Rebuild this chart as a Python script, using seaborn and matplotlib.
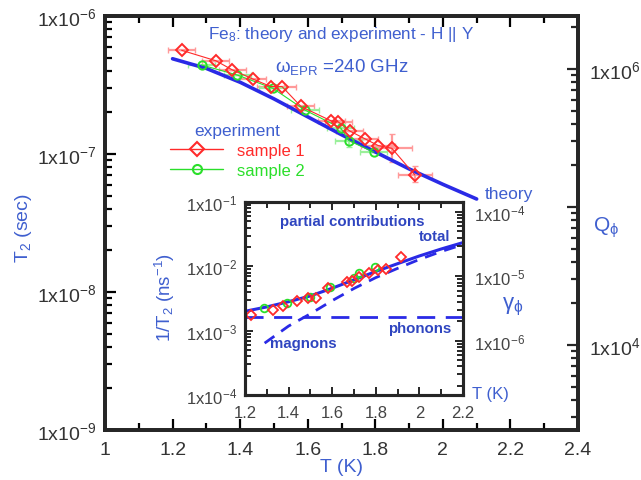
import numpy as np
import pandas as pd
import matplotlib
matplotlib.use("Agg")
import matplotlib.pyplot as plt
import seaborn as sns
from matplotlib.ticker import MultipleLocator, FixedLocator, FixedFormatter, NullFormatter, LogLocator, FuncFormatter
from matplotlib.lines import Line2D

# ---------------- data ----------------
theory_T = [1.20, 1.30, 1.40, 1.50, 1.60, 1.70, 1.80, 1.90, 2.00, 2.10]
theory_T2 = [4.90e-7, 4.17e-7, 3.31e-7, 2.51e-7, 1.86e-7, 1.38e-7, 1.035e-7, 7.80e-8, 6.03e-8, 4.72e-8]

s1_T = [1.227, 1.328, 1.376, 1.438, 1.491, 1.524, 1.580, 1.669, 1.690, 1.724, 1.769, 1.809, 1.849, 1.917]
s1_T2 = [5.64e-7, 4.74e-7, 4.08e-7, 3.49e-7, 3.08e-7, 3.08e-7, 2.21e-7, 1.74e-7, 1.71e-7, 1.47e-7, 1.29e-7, 1.15e-7, 1.10e-7, 7.05e-8]
s1_xerr = [0.04, 0.04, 0.04, 0.04, 0.04, 0.04, 0.04, 0.04, 0.04, 0.04, 0.04, 0.05, 0.06, 0.05]
s1_yerr_lo = [0, 0, 0, 0, 0, 0, 0, 0, 0, 0, 0, 0, 2.25e-8, 0.78e-8]
s1_yerr_hi = [0, 0, 0, 0, 0, 0, 0, 0, 0, 0, 0, 0, 3.0e-8, 1.13e-8]

s2_T = [1.286, 1.392, 1.497, 1.592, 1.698, 1.722, 1.796]
s2_T2 = [4.42e-7, 3.73e-7, 2.99e-7, 2.08e-7, 1.54e-7, 1.25e-7, 1.03e-7]
s2_xerr = [0.04, 0.04, 0.04, 0.04, 0.04, 0.04, 0.04]
s2_yerr = [0, 0, 0, 0, 1.5e-8, 1.2e-8, 0]

total_T = [1.20, 1.30, 1.40, 1.50, 1.60, 1.70, 1.80, 1.90, 2.00, 2.10, 2.20]
total_rate = [2.00e-3, 2.34e-3, 2.82e-3, 3.47e-3, 4.57e-3, 6.17e-3, 8.32e-3, 1.10e-2, 1.45e-2, 1.86e-2, 2.34e-2]
phonon_T = [1.20, 2.20]
phonon_rate = [1.64e-3, 1.64e-3]
magnon_T = [1.29, 1.40, 1.50, 1.60, 1.70, 1.80, 1.90, 2.00, 2.10, 2.20]
magnon_rate = [6.4e-4, 1.18e-3, 1.83e-3, 2.93e-3, 4.53e-3, 6.68e-3, 9.3e-3, 1.28e-2, 1.70e-2, 2.18e-2]

main_yticks = [1e-9, 1e-8, 1e-7, 1e-6]
main_ylabels = [r"1x10$^{-9}$", r"1x10$^{-8}$", r"1x10$^{-7}$", r"1x10$^{-6}$"]
q_ticks = [1e4, 1e5, 1e6]
q_labels = [r"1x10$^{4}$", "", r"1x10$^{6}$"]
in_yticks = [1e-4, 1e-3, 1e-2, 1e-1]
in_ylabels = [r"1x10$^{-4}$", r"1x10$^{-3}$", r"1x10$^{-2}$", r"1x10$^{-1}$"]
g_ticks = [1e-6, 1e-5, 1e-4]
g_labels = [r"1x10$^{-6}$", r"1x10$^{-5}$", r"1x10$^{-4}$"]

# ---------------- style ----------------
sns.set_theme(style="ticks")
plt.rcParams["font.family"] = ["Liberation Sans", "DejaVu Sans"]
plt.rcParams["mathtext.default"] = "regular"

RED = "#ff2a2a"
RED_L = "#ff9a9a"
GREEN = "#2adf2a"
GREEN_L = "#9af09a"
BLUE = "#2a2ae6"
TXT = "#3f5fcf"
TXT_D = "#2f45c0"
TICK = "#333333"

W, H = 641, 481
fig = plt.figure(figsize=(W / 100, H / 100), dpi=100)
fig.patch.set_facecolor("white")

def P(x, y):
    return x / W, 1 - y / H

# ---------------- main axes ----------------
ax = fig.add_axes([105 / W, 1 - 431 / H, (578 - 105) / W, (431 - 17) / H])
ax.set_yscale("log")

sns.lineplot(x=theory_T, y=theory_T2, ax=ax, color=BLUE, lw=2.6, estimator=None, sort=False, zorder=3)

ax.errorbar(s1_T, s1_T2, xerr=s1_xerr, yerr=[s1_yerr_lo, s1_yerr_hi], fmt="none",
            ecolor=RED_L, elinewidth=1.6, capsize=2.5, capthick=1.0, zorder=2)
ax.errorbar(s2_T, s2_T2, xerr=s2_xerr, yerr=s2_yerr, fmt="none",
            ecolor=GREEN_L, elinewidth=1.6, capsize=2.5, capthick=1.0, zorder=2)
sns.lineplot(x=s2_T, y=s2_T2, ax=ax, color=GREEN, lw=0.8, marker="o", markersize=6,
             markerfacecolor="none", markeredgecolor=GREEN, markeredgewidth=1.4,
             estimator=None, sort=False, zorder=4)
sns.lineplot(x=s1_T, y=s1_T2, ax=ax, color=RED, lw=0.8, marker="D", markersize=6,
             markerfacecolor="none", markeredgecolor=RED, markeredgewidth=1.4,
             estimator=None, sort=False, zorder=5)

ax.set_xlim(1, 2.4)
ax.set_ylim(1e-9, 1e-6)
ax.xaxis.set_major_locator(MultipleLocator(0.2))
ax.xaxis.set_minor_locator(MultipleLocator(0.1))
ax.xaxis.set_major_formatter(FuncFormatter(lambda v, p: f"{v:g}"))
ax.yaxis.set_major_locator(FixedLocator(main_yticks))
ax.yaxis.set_major_formatter(FixedFormatter(main_ylabels))
ax.yaxis.set_minor_locator(LogLocator(base=10, subs=np.arange(2, 10)))
ax.yaxis.set_minor_formatter(NullFormatter())
ax.tick_params(which="both", direction="in", top=True, right=False, colors="black",
               labelcolor=TICK, labelsize=14, width=1.6)
ax.tick_params(which="major", length=8)
ax.tick_params(which="minor", length=5)
ax.tick_params(axis="x", pad=8)
ax.tick_params(axis="y", pad=6)
for s in ax.spines.values():
    s.set_linewidth(2.6)
    s.set_color("black")
ax.set_xlabel("")
ax.set_ylabel("")

ax2 = ax.twinx()
ax2.set_yscale("log")
k = 10 ** 12.384
ax2.set_ylim(1e-9 * k, 1e-6 * k)
ax2.yaxis.set_major_locator(FixedLocator(q_ticks))
ax2.yaxis.set_major_formatter(FixedFormatter(q_labels))
ax2.yaxis.set_minor_locator(LogLocator(base=10, subs=np.arange(2, 10)))
ax2.yaxis.set_minor_formatter(NullFormatter())
ax2.tick_params(which="both", direction="in", labelcolor=TICK, labelsize=14, width=1.6, pad=8)
ax2.tick_params(which="major", length=8)
ax2.tick_params(which="minor", length=5)
for s in ax2.spines.values():
    s.set_linewidth(2.6)

# legend
handles = [Line2D([], [], color=RED, lw=1.0, marker="D", markersize=7, markerfacecolor="none",
                  markeredgewidth=1.5),
           Line2D([], [], color=GREEN, lw=1.0, marker="o", markersize=6.5, markerfacecolor="none",
                  markeredgewidth=1.5)]
leg = ax.legend(handles, ["sample 1", "sample 2"], title="experiment", frameon=False,
                loc="upper left", bbox_to_anchor=P(170, 124), bbox_transform=fig.transFigure,
                borderpad=0, borderaxespad=0, handlelength=3.2, handletextpad=0.8,
                labelspacing=0.3, fontsize=12, title_fontsize=12.5)
leg.get_title().set_color(TXT)
leg.texts[0].set_color(RED)
leg.texts[1].set_color(GREEN)

# texts in main
fig.text(*P(208, 35), r"Fe$_8$: theory and experiment - H || Y", color=TXT, fontsize=12.3, va="center", ha="left")
fig.text(*P(275, 67), r"$\omega_{EPR}$ =240 GHz", color=TXT, fontsize=13.5, va="center", ha="left")
fig.text(*P(485, 195), "theory", color=TXT, fontsize=12.5, va="center", ha="left")
fig.text(*P(23, 228), r"T$_2$ (sec)", color=TXT, fontsize=14, va="center", ha="center", rotation=90)
fig.text(*P(606, 228), r"Q$_\phi$", color=TXT, fontsize=15, va="center", ha="center")
fig.text(*P(341, 468), "T (K)", color=TXT, fontsize=14, va="center", ha="center")

# ---------------- inset ----------------
axi = fig.add_axes([245 / W, 1 - 396 / H, (463 - 245) / W, (396 - 203) / H])
axi.set_zorder(5)
axi.set_facecolor("white")
axi.set_yscale("log")

sns.lineplot(x=phonon_T, y=phonon_rate, ax=axi, color=BLUE, lw=2.0, linestyle=(0, (6.5, 3.8)),
             estimator=None, sort=False, zorder=3)
sns.lineplot(x=magnon_T, y=magnon_rate, ax=axi, color=BLUE, lw=2.0, linestyle=(0, (4.3, 3.0)),
             estimator=None, sort=False, zorder=3)
sns.lineplot(x=total_T, y=total_rate, ax=axi, color=BLUE, lw=2.2, estimator=None, sort=False, zorder=4)
s1_rate = [1e-9 / v for v in s1_T2]
s2_rate = [1e-9 / v for v in s2_T2]
sns.lineplot(x=s2_T, y=s2_rate, ax=axi, color=GREEN, linestyle="", marker="o", markersize=5.5,
             markerfacecolor="none", markeredgecolor=GREEN, markeredgewidth=1.3,
             estimator=None, sort=False, zorder=5)
sns.lineplot(x=s1_T, y=s1_rate, ax=axi, color=RED, linestyle="", marker="D", markersize=5,
             markerfacecolor="none", markeredgecolor=RED, markeredgewidth=1.3,
             estimator=None, sort=False, zorder=6)

axi.set_xlim(1.2, 2.2)
axi.set_ylim(1e-4, 1e-1)
axi.xaxis.set_major_locator(MultipleLocator(0.2))
axi.xaxis.set_minor_locator(MultipleLocator(0.1))
axi.xaxis.set_major_formatter(FuncFormatter(lambda v, p: f"{v:g}"))
axi.yaxis.set_major_locator(FixedLocator(in_yticks))
axi.yaxis.set_major_formatter(FixedFormatter(in_ylabels))
axi.yaxis.set_minor_locator(LogLocator(base=10, subs=np.arange(2, 10)))
axi.yaxis.set_minor_formatter(NullFormatter())
axi.tick_params(which="both", direction="in", top=True, right=False, labelcolor="#444444",
                labelsize=12, width=1.4)
axi.tick_params(which="major", length=6)
axi.tick_params(which="minor", length=4)
axi.tick_params(axis="x", pad=7)
axi.tick_params(axis="y", pad=6)
for s in axi.spines.values():
    s.set_linewidth(2.2)
    s.set_color("black")
axi.set_xlabel("")
axi.set_ylabel("")

axi2 = axi.twinx()
axi2.set_zorder(6)
axi2.set_yscale("log")
axi2.set_ylim(10 ** -6.844, 10 ** -3.844)
axi2.yaxis.set_major_locator(FixedLocator(g_ticks))
axi2.yaxis.set_major_formatter(FixedFormatter(g_labels))
axi2.yaxis.set_minor_locator(LogLocator(base=10, subs=np.arange(2, 10)))
axi2.yaxis.set_minor_formatter(NullFormatter())
axi2.tick_params(which="both", direction="in", labelcolor="#444444", labelsize=12, width=1.4, pad=8)
axi2.tick_params(which="major", length=6)
axi2.tick_params(which="minor", length=4)
for s in axi2.spines.values():
    s.set_linewidth(2.2)

# inset texts
fig.text(*P(280, 222), "partial contributions", color=TXT_D, fontsize=10.8, fontweight="bold", va="center", ha="left", zorder=10)
fig.text(*P(450, 237), "total", color=TXT_D, fontsize=10.8, fontweight="bold", va="center", ha="right", zorder=10)
fig.text(*P(451, 329), "phonons", color=TXT_D, fontsize=10.8, fontweight="bold", va="center", ha="right", zorder=10)
fig.text(*P(270, 344), "magnons", color=TXT_D, fontsize=10.8, fontweight="bold", va="center", ha="left", zorder=10)
fig.text(*P(165, 297), r"1/T$_2$ (ns$^{-1}$)", color=TXT, fontsize=13.5, va="center", ha="center", rotation=90)
fig.text(*P(513, 307), r"$\gamma_\phi$", color=TXT, fontsize=16, va="center", ha="center")
fig.text(*P(472, 395), "T (K)", color=TXT, fontsize=12, va="center", ha="left")

fig.savefig("out.png", dpi=100)
